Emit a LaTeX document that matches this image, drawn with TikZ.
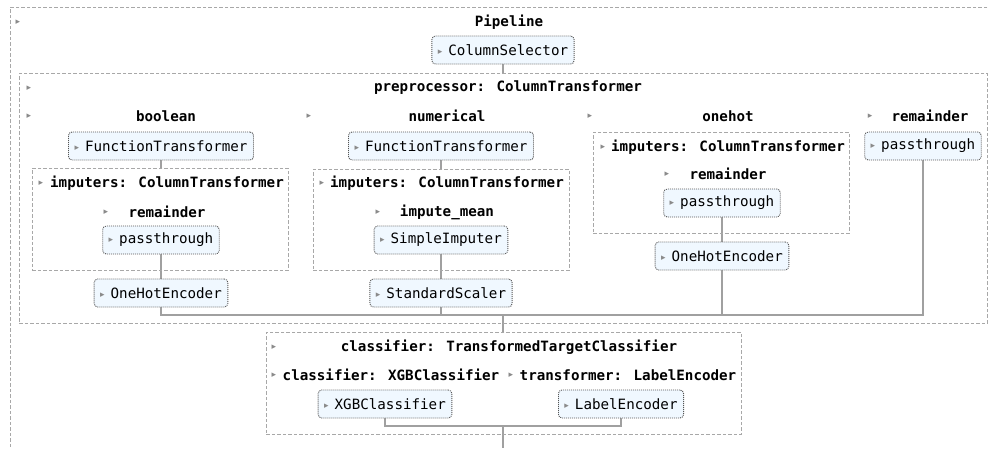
\documentclass[tikz,border=0pt]{standalone}
\usepackage{fontspec}
\newfontfamily\skmono{DejaVu Sans Mono}
\newfontfamily\sksym{DejaVu Sans}
\usetikzlibrary{backgrounds}

\definecolor{estfill}{HTML}{F0F8FF}
\definecolor{estborder}{HTML}{555555}
\definecolor{boxline}{HTML}{A8A8A8}
\definecolor{wirecol}{HTML}{A0A0A0}
\definecolor{arrowgray}{HTML}{8A8A8A}

% small disclosure triangle used before every label
\newcommand{\tog}{\raisebox{1pt}{\sksym\fontsize{9}{9}\selectfont\textcolor{arrowgray}{▸}}}

\tikzset{
  container/.style={draw=boxline, dash pattern=on 3.5pt off 2pt, line width=0.9pt,
    anchor=north west, inner sep=0pt},
  estimator/.style={draw=estborder, dash pattern=on 1pt off 1pt, line width=0.9pt, fill=estfill,
    rounded corners=3.5pt, minimum height=28pt, inner xsep=6pt, inner ysep=0pt,
    font=\skmono\fontsize{14.2}{16}\selectfont},
  title/.style={font=\skmono\bfseries\fontsize{14.2}{16}\selectfont, inner sep=0pt},
  toggle/.style={inner sep=0pt, text=arrowgray, font=\sksym\fontsize{9}{9}\selectfont},
  wire/.style={draw=wirecol, line width=1.2pt},
}

\begin{document}
\begin{tikzpicture}[x=1pt, y=-1pt]
\useasboundingbox (0,0) rectangle (988,448);
\clip (0,0) rectangle (988,448);

% ---------- Pipeline ----------
\node[container, minimum width=990pt, minimum height=460pt] (pipe) at (10,7) {};
\node[toggle] (pipetog) at (18,22) {▸};
\node[title] (pipetitle) at (509,22) {Pipeline};
\node[estimator] (cs) at (503,50) {\tog\hspace{6pt}ColumnSelector};

% ---------- preprocessor ----------
\node[container, minimum width=968pt, minimum height=250pt] (pre) at (19,73) {};
\node[toggle] (pretog) at (29,88) {▸};
\node[title] (pretitle) at (508,88) {preprocessor: ColumnTransformer};

\node[toggle] (btog) at (29,116) {▸};
\node[title] (btitle) at (166,116) {boolean};
\node[toggle] (ntog) at (309,116) {▸};
\node[title] (ntitle) at (447,116) {numerical};
\node[toggle] (otog) at (590,116) {▸};
\node[title] (otitle) at (728,116) {onehot};
\node[toggle] (rtog) at (870,116) {▸};
\node[title] (rtitle) at (930,116) {remainder};

% boolean branch
\node[estimator] (bft) at (161,146) {\tog\hspace{6pt}FunctionTransformer};
\node[container, minimum width=256pt, minimum height=102pt] (bimp) at (32,168) {};
\node[toggle] (bimptog) at (41,183) {▸};
\node[title] (bimptitle) at (167,183) {imputers: ColumnTransformer};
\node[toggle] (bremtog) at (106,212) {▸};
\node[title] (bremtitle) at (167,212) {remainder};
\node[estimator] (bpt) at (161,240) {\tog\hspace{6pt}passthrough};
\node[estimator] (bohe) at (161,293) {\tog\hspace{6pt}OneHotEncoder};

% numerical branch
\node[estimator] (nft) at (441,146) {\tog\hspace{6pt}FunctionTransformer};
\node[container, minimum width=256pt, minimum height=101pt] (nimp) at (313,169) {};
\node[toggle] (nimptog) at (322,183) {▸};
\node[title] (nimptitle) at (447,183) {imputers: ColumnTransformer};
\node[toggle] (nmeantog) at (378,212) {▸};
\node[title] (nmeantitle) at (447,212) {impute\_mean};
\node[estimator] (nsi) at (441,240) {\tog\hspace{6pt}SimpleImputer};
\node[estimator] (nss) at (441,293) {\tog\hspace{6pt}StandardScaler};

% onehot branch
\node[container, minimum width=256pt, minimum height=101pt] (oimp) at (593,132) {};
\node[toggle] (oimptog) at (603,147) {▸};
\node[title] (oimptitle) at (728,147) {imputers: ColumnTransformer};
\node[toggle] (oremtog) at (667,174) {▸};
\node[title] (oremtitle) at (728,174) {remainder};
\node[estimator] (opt) at (722,203) {\tog\hspace{6pt}passthrough};
\node[estimator] (oohe) at (722,256) {\tog\hspace{6pt}OneHotEncoder};

% remainder branch
\node[estimator] (rpt) at (923,146) {\tog\hspace{6pt}passthrough};

\coordinate (merge) at (503,315);

% ---------- classifier ----------
\node[container, minimum width=475pt, minimum height=102pt] (clf) at (266,332) {};
\node[toggle] (clftog) at (274,347) {▸};
\node[title] (clftitle) at (509,347) {classifier: TransformedTargetClassifier};
\node[toggle] (xgbtog) at (274,375) {▸};
\node[title] (xgbtitle) at (391,375) {classifier: XGBClassifier};
\node[toggle] (letog) at (511,375) {▸};
\node[title] (letitle) at (628,375) {transformer: LabelEncoder};
\node[estimator] (xgb) at (385,404) {\tog\hspace{6pt}XGBClassifier};
\node[estimator] (le) at (621,404) {\tog\hspace{6pt}LabelEncoder};

\coordinate (join) at (503,426);
\coordinate (tail) at (503,448);

% ---------- connectors ----------
\begin{pgfonlayer}{background}
\draw[wire] (cs.south) -- (cs.south |- pre.north);
\draw[wire] (bft.south) -- (bft.south |- bimp.north);
\draw[wire] (bpt.south) -- (bohe.north);
\draw[wire] (nft.south) -- (nft.south |- nimp.north);
\draw[wire] (nsi.south) -- (nss.north);
\draw[wire] (opt.south) -- (oohe.north);
\draw[wire] (bohe.south) -- (bohe.south |- merge) -- (rpt.south |- merge) -- (rpt.south);
\draw[wire] (nss.south) -- (nss.south |- merge);
\draw[wire] (oohe.south) -- (oohe.south |- merge);
\draw[wire] (merge) -- (merge |- clf.north);
\draw[wire] (xgb.south) -- (xgb.south |- join) -- (le.south |- join) -- (le.south);
\draw[wire] (join) -- (tail);
\end{pgfonlayer}
\end{tikzpicture}
\end{document}
